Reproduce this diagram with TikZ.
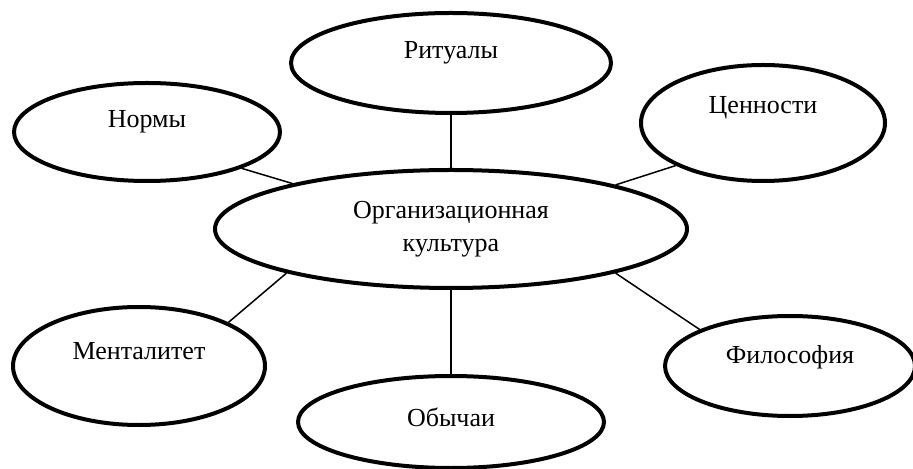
\documentclass[tikz,border=0pt]{standalone}
\usepackage{fontspec}
\setmainfont{Liberation Serif}
\usetikzlibrary{shapes.geometric}

\begin{document}
\begin{tikzpicture}[x=0.5pt, y=-0.5pt,
                    bubble/.style={ellipse, draw, line width=2pt, inner sep=0pt},
                    link/.style={line width=0.75pt},
                    every label/.style={font=\fontsize{13}{15}\selectfont}]
                    \useasboundingbox (0,0) rectangle (913,469);
                    % centre
                    \node (org) at (451,229) [bubble, minimum width=236pt, minimum height=59pt,
                          font=\fontsize{13}{16.5}\selectfont, align=center] {Организационная\\культура};
                    % outer ellipses
                    \node (rituals) at (451,63) [bubble, minimum width=160pt, minimum height=50pt,
                          label={[yshift=5pt]center:Ритуалы}] {};
                    \node (norms) at (147,132) [bubble, minimum width=133pt, minimum height=49pt,
                          label={[yshift=5pt]center:Нормы}] {};
                    \node (values) at (763,123) [bubble, minimum width=122pt, minimum height=58pt,
                          label={[yshift=7.5pt]center:Ценности}] {};
                    \node (mentality) at (139,366) [bubble, minimum width=126pt, minimum height=59pt,
                          label={[yshift=7.5pt]center:Менталитет}] {};
                    \node (customs) at (451,422) [bubble, minimum width=153pt, minimum height=46pt,
                          label={[yshift=2.5pt]center:Обычаи}] {};
                    \node (philosophy) at (790,366) [bubble, minimum width=125pt, minimum height=50pt,
                          label={[yshift=4.5pt]center:Философия}] {};
                    % connectors
                    \draw[link] (rituals.south) -- (org.north);
                    \draw[link] (customs.north) -- (org.south);
                    \draw[link] (norms.-21) -- (org.164);
                    \draw[link] (values.-154) -- (org.15);
                    \draw[link] (mentality.26) -- (org.195);
                    \draw[link] (philosophy.158) -- (org.-15);
                \end{tikzpicture}
\end{document}
